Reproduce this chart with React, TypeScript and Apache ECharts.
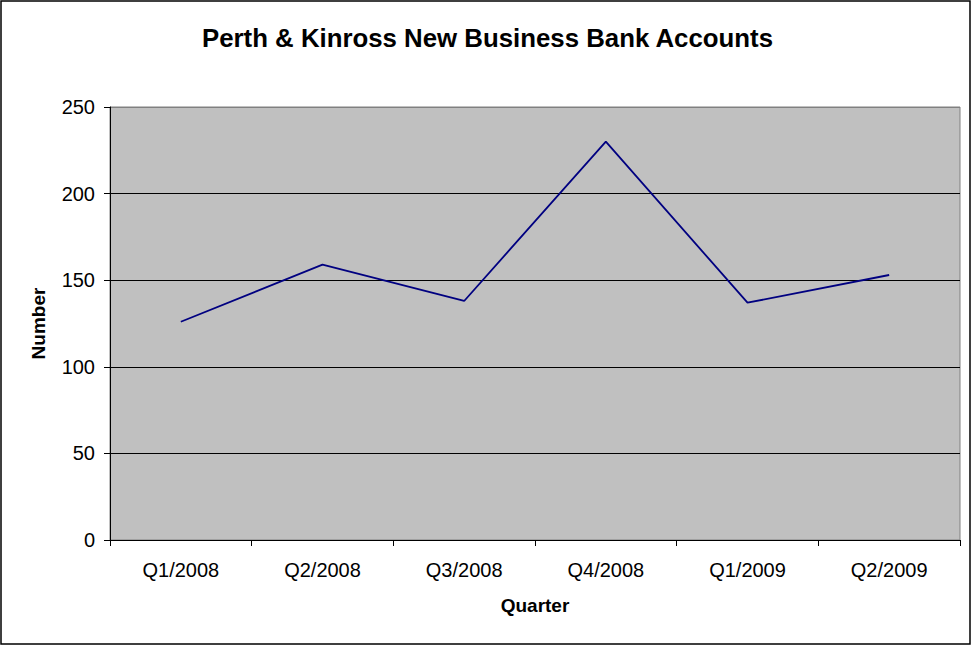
import React, { useEffect, useRef } from "react";
import * as echarts from "echarts";

const categories = ["Q1/2008", "Q2/2008", "Q3/2008", "Q4/2008", "Q1/2009", "Q2/2009"];
const accounts = [126, 159, 138, 230, 137, 153];
const yTicks = [0, 50, 100, 150, 200, 250];

const titleText = "Perth & Kinross New Business Bank Accounts";
const xName = "Quarter";
const yName = "Number";

export default function App() {
  const ref = useRef<HTMLDivElement>(null);

  useEffect(() => {
    document.body.style.margin = "0";
    if (!ref.current) return;
    const chart = echarts.init(ref.current, undefined, { renderer: "svg" });
    const font = "Arial, 'Liberation Sans', Helvetica, sans-serif";
    chart.setOption({
      animation: false,
      backgroundColor: "#ffffff",
      textStyle: { fontFamily: font },
      title: {
        text: titleText,
        left: "center",
        top: 20,
        textStyle: { fontFamily: font, fontSize: 25.8, fontWeight: "bold", color: "#000" },
      },
      graphic: [
        {
          type: "rect",
          shape: { x: 1, y: 1, width: 969, height: 643 },
          style: { fill: "none", stroke: "#000", lineWidth: 1.5 },
          silent: true,
        },
      ],
      grid: {
        left: 110,
        right: 15,
        top: 107,
        bottom: 106,
        show: true,
        backgroundColor: "#C0C0C0",
        borderColor: "#808080",
        borderWidth: 1,
      },
      xAxis: {
        type: "category",
        data: categories,
        boundaryGap: true,
        name: xName,
        nameLocation: "middle",
        nameGap: 56,
        nameTextStyle: { fontFamily: font, fontSize: 19, fontWeight: "bold", color: "#000" },
        axisLine: { show: true, lineStyle: { color: "#000", width: 1 } },
        axisTick: { show: true, length: 6, alignWithLabel: false, lineStyle: { color: "#000" } },
        axisLabel: { fontFamily: font, fontSize: 20, color: "#000", margin: 20 },
        splitLine: { show: false },
      },
      yAxis: {
        type: "value",
        min: yTicks[0],
        max: yTicks[yTicks.length - 1],
        interval: 50,
        name: yName,
        nameLocation: "middle",
        nameGap: 62,
        nameRotate: 90,
        nameTextStyle: { fontFamily: font, fontSize: 19, fontWeight: "bold", color: "#000" },
        axisLine: { show: true, lineStyle: { color: "#000", width: 1 } },
        axisTick: { show: true, length: 6, lineStyle: { color: "#000" } },
        axisLabel: { fontFamily: font, fontSize: 20, color: "#000", margin: 15 },
        splitLine: {
          show: true,
          lineStyle: {
            color: ["#000", "#000", "#000", "#000", "#000", "#808080"],
            width: 1,
          },
        },
      },
      series: [
        {
          type: "line",
          data: accounts,
          symbol: "none",
          lineStyle: { color: "#000080", width: 1.8 },
          itemStyle: { color: "#000080" },
        },
      ],
    });
    return () => chart.dispose();
  }, []);

  return <div ref={ref} style={{ width: 975, height: 646 }} />;
}
